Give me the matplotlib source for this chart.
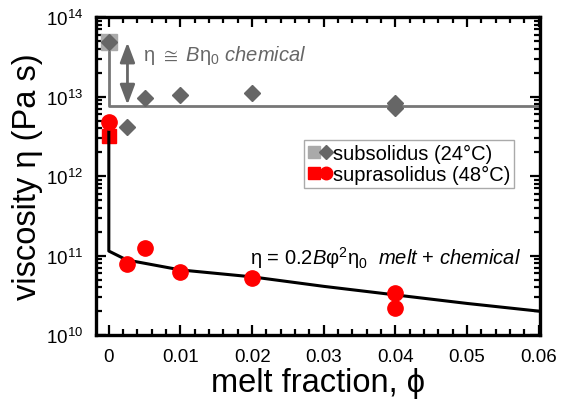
import numpy as np
import matplotlib
matplotlib.use("Agg")
import matplotlib.pyplot as plt
from matplotlib.lines import Line2D
from matplotlib.legend_handler import HandlerTuple
from matplotlib.ticker import LogLocator, LogFormatterMathtext, MultipleLocator

plt.rcParams['font.family'] = ['Liberation Sans', 'DejaVu Sans']
plt.rcParams['mathtext.fontset'] = 'custom'
plt.rcParams['mathtext.rm'] = 'Liberation Sans'
plt.rcParams['mathtext.it'] = 'Liberation Sans:italic'
plt.rcParams['mathtext.bf'] = 'Liberation Sans:bold'

# subsolidus (24 C)
sub_sq_x = [0.0]
sub_sq_y = [4.9e13]
sub_x = [0.0, 0.0025, 0.005, 0.01, 0.02, 0.04, 0.04]
sub_y = [4.9e13, 4.2e12, 9.6e12, 1.05e13, 1.1e13, 8.3e12, 7.2e12]

# suprasolidus (48 C)
sup_sq_x = [0.0]
sup_sq_y = [3.2e12]
sup_x = [0.0, 0.0025, 0.005, 0.01, 0.02, 0.04, 0.04]
sup_y = [4.8e12, 7.8e10, 1.23e11, 6.3e10, 5.2e10, 3.4e10, 2.2e10]

# chemical-only level (gray) and melt + chemical model (black)
chem_x = [0.0, 0.0, 0.0602]
chem_y = [4.9e13, 7.7e12, 7.7e12]
model_x = [0.0, 0.0, 0.0025, 0.005, 0.01, 0.02, 0.03, 0.04, 0.05, 0.06, 0.0602]
model_y = [4.8e12, 1.14e11, 8.8e10, 8.0e10, 6.6e10, 5.4e10, 4.1e10, 3.2e10, 2.5e10, 2.0e10, 2.0e10]

gray_d = '#666666'
gray_s = '#aaaaaa'
red = '#ff0000'

fig = plt.figure(figsize=(5.71, 4.02), dpi=100)
ax = fig.add_axes([0.168, 0.164, 0.778, 0.791])

ax.plot(chem_x, chem_y, color='#777777', lw=2, zorder=2)
ax.plot(sub_sq_x, sub_sq_y, 's', color=gray_s, ms=11, zorder=3)
ax.plot(sub_x, sub_y, 'D', color=gray_d, ms=8, zorder=4)

ax.plot(sup_sq_x, sup_sq_y, 's', color=red, ms=10, zorder=3)
ax.plot(model_x, model_y, color='black', lw=2.2, zorder=4)
ax.plot(sup_x, sup_y, 'o', color=red, ms=11, zorder=5)

ax.annotate('', xy=(0.0026, 7.9e12), xytext=(0.0026, 4.8e13),
            arrowprops=dict(arrowstyle='<|-|>,head_length=1.2,head_width=0.45',
                            color=gray_d, lw=2, shrinkA=0, shrinkB=0))

ax.text(0.0048, 3.4e13, r'η ${\cong}$ $\it{B}$η$_0$ $\it{chemical}$',
        color=gray_d, fontsize=14.5, va='center', ha='left')
ax.text(0.0197, 9.6e10, r'η = 0.2$\it{B}$φ$^2$η$_0$  $\it{melt}$ + $\it{chemical}$',
        color='black', fontsize=14.5, va='center', ha='left')

h1 = (Line2D([], [], marker='s', color=gray_s, ls='none', ms=8),
      Line2D([], [], marker='D', color=gray_d, ls='none', ms=7.5))
h2 = (Line2D([], [], marker='s', color=red, ls='none', ms=8),
      Line2D([], [], marker='o', color=red, ls='none', ms=9))
ax.legend([h1, h2], ['subsolidus (24°C)', 'suprasolidus (48°C)'],
          handler_map={tuple: HandlerTuple(ndivide=None, pad=0)},
          loc='upper left', bbox_to_anchor=(0.468, 0.615), fontsize=14.5,
          handlelength=1.2, handletextpad=0.05, borderpad=0.2,
          labelspacing=0.1, fancybox=False, edgecolor='#aaaaaa',
          framealpha=1, borderaxespad=0)

ax.set_yscale('log')
ax.set_xlim(-0.0018, 0.0602)
ax.set_ylim(1e10, 1e14)
ax.xaxis.set_minor_locator(MultipleLocator(0.002))
ax.set_xticks([0, 0.01, 0.02, 0.03, 0.04, 0.05, 0.06])
ax.set_xticklabels(['0', '0.01', '0.02', '0.03', '0.04', '0.05', '0.06'])
ax.yaxis.set_major_locator(LogLocator(base=10, numticks=10))
ax.yaxis.set_minor_locator(LogLocator(base=10, subs=np.arange(2, 10), numticks=20))
ax.yaxis.set_major_formatter(LogFormatterMathtext())

ax.tick_params(which='both', direction='in', top=True, right=True,
               labelsize=13.5, width=1.6, pad=9)
ax.tick_params(which='major', length=7)
ax.tick_params(which='minor', length=4)
for s in ax.spines.values():
    s.set_linewidth(2.4)

ax.set_xlabel('melt fraction, ϕ', fontsize=23.5, labelpad=2)
ax.set_ylabel('viscosity η (Pa s)', fontsize=23.5, labelpad=2)

fig.savefig('out.png', dpi=100)
